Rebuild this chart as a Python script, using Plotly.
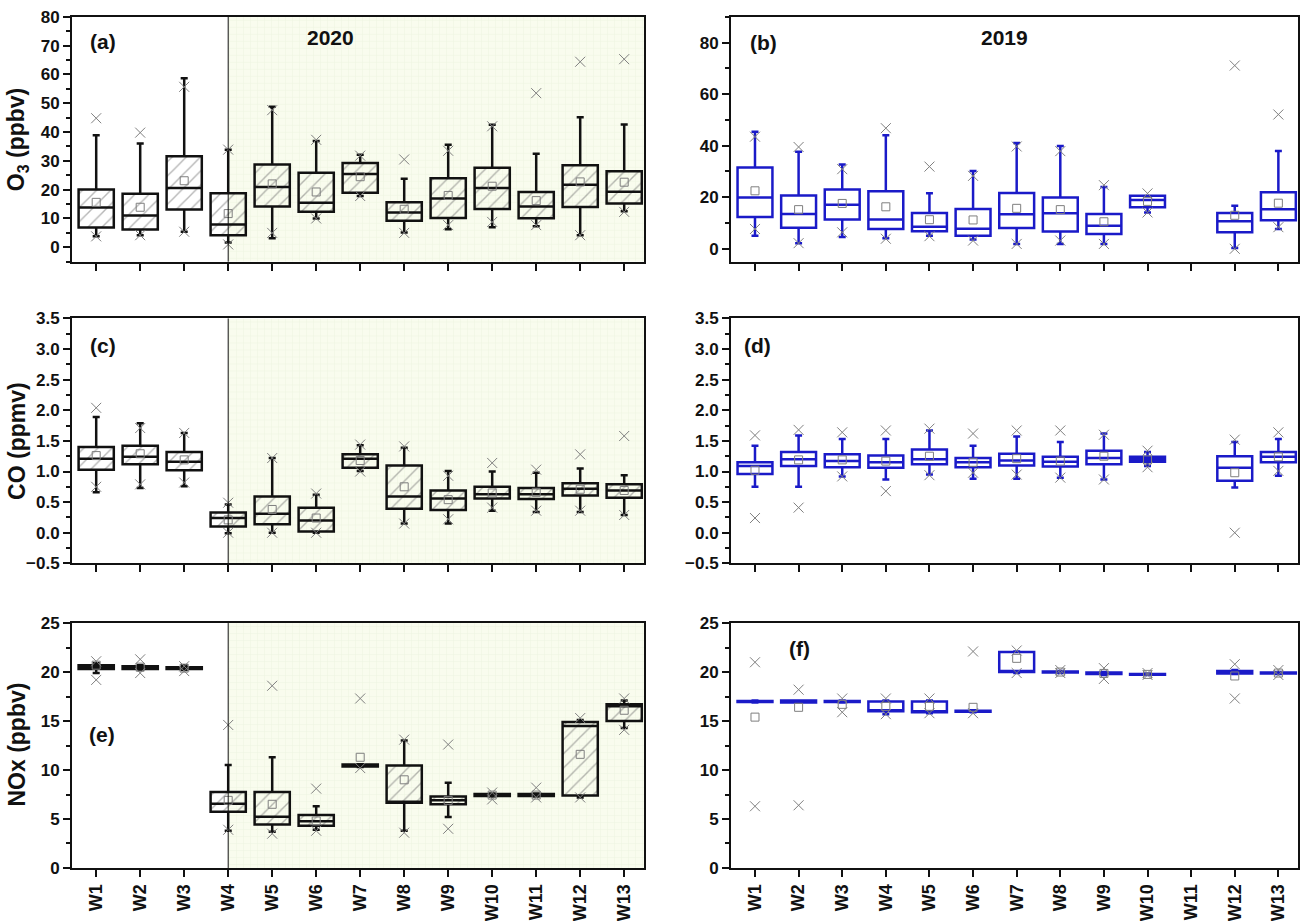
import plotly.graph_objects as go

weeks = ["W1", "W2", "W3", "W4", "W5", "W6", "W7", "W8", "W9", "W10", "W11", "W12", "W13"]
xpos = list(range(1, len(weeks) + 1))

# ---------- (a) O3 2020 (ppbv) ----------
o3_20_lo = [3.8, 4.2, 5.4, 1.7, 3.1, 10.0, 17.8, 5.1, 6.3, 7.0, 7.3, 4.2, 12.5]
o3_20_q1 = [6.9, 6.2, 13.1, 4.2, 14.2, 12.3, 18.9, 9.2, 10.2, 13.3, 10.1, 14.0, 15.2]
o3_20_med = [13.8, 11.0, 20.6, 7.9, 20.9, 15.5, 25.4, 12.1, 16.9, 20.6, 14.2, 21.7, 19.3]
o3_20_q3 = [20.1, 18.6, 31.6, 18.8, 28.7, 25.9, 29.3, 15.6, 24.0, 27.6, 19.2, 28.5, 26.4]
o3_20_hi = [38.9, 36.0, 58.7, 33.9, 48.8, 36.9, 32.1, 23.8, 35.6, 42.5, 32.5, 45.1, 42.6]
o3_20_mean = [15.6, 13.9, 23.1, 11.7, 22.0, 19.2, 24.5, 13.2, 18.0, 21.2, 16.2, 22.7, 22.6]
o3_20_pmin = [3.8, 4.2, 5.4, 1.0, 5.0, 10.0, 17.8, 5.0, 7.7, 8.8, 7.7, 4.2, 12.3]
o3_20_pmax = [44.8, 39.8, 55.7, 33.9, 47.6, 37.3, 31.8, 30.5, 33.5, 42.0, 53.5, 64.4, 65.3]

# ---------- (b) O3 2019 (ppbv) ----------
o3_19_lo = [5.1, 2.2, 4.6, 4.1, 5.1, 3.6, 1.9, 1.9, 1.9, 14.1, None, 0.3, 7.7]
o3_19_q1 = [12.3, 8.2, 11.4, 7.7, 6.8, 5.1, 8.1, 6.7, 5.7, 16.1, None, 6.4, 11.1]
o3_19_med = [19.9, 13.5, 17.1, 11.4, 8.6, 7.8, 13.4, 13.8, 8.9, 18.9, None, 10.7, 15.3]
o3_19_q3 = [31.5, 20.7, 23.0, 22.3, 13.9, 15.4, 21.7, 19.9, 13.5, 20.6, None, 13.9, 21.9]
o3_19_hi = [45.4, 37.7, 32.7, 44.1, 21.6, 30.2, 41.0, 39.9, 24.0, 20.6, None, 16.7, 37.9]
o3_19_mean = [22.5, 15.2, 17.6, 16.3, 11.3, 11.2, 15.7, 15.2, 10.5, 18.4, None, 13.0, 17.7]
o3_19_pmin = [7.7, 2.2, 6.4, 3.9, 4.9, 3.2, 1.9, 3.2, 1.9, 14.1, None, 0.0, 8.4]
o3_19_pmax = [43.5, 39.5, 30.9, 46.8, 31.9, 28.3, 39.7, 37.9, 24.7, 21.5, None, 71.1, 52.1]

# ---------- (c) CO 2020 (ppmv) ----------
co_20_lo = [0.66, 0.73, 0.76, -0.01, 0.0, 0.0, 1.01, 0.15, 0.15, 0.36, 0.34, 0.34, 0.29]
co_20_q1 = [1.03, 1.12, 1.02, 0.10, 0.14, 0.02, 1.06, 0.39, 0.37, 0.56, 0.55, 0.61, 0.57]
co_20_med = [1.21, 1.24, 1.16, 0.24, 0.31, 0.20, 1.21, 0.59, 0.56, 0.63, 0.63, 0.72, 0.69]
co_20_q3 = [1.40, 1.42, 1.32, 0.33, 0.59, 0.41, 1.28, 1.10, 0.69, 0.75, 0.73, 0.81, 0.79]
co_20_hi = [1.89, 1.79, 1.63, 0.46, 1.22, 0.62, 1.43, 1.39, 1.01, 1.00, 0.98, 1.05, 0.94]
co_20_mean = [1.26, 1.29, 1.19, 0.21, 0.38, 0.24, 1.18, 0.75, 0.54, 0.65, 0.66, 0.71, 0.69]
co_20_pmin = [0.75, 0.79, 0.82, 0.0, 0.0, 0.0, 1.0, 0.15, 0.22, 0.41, 0.36, 0.36, 0.29]
co_20_pmax = [2.04, 1.71, 1.63, 0.49, 1.22, 0.64, 1.44, 1.41, 0.93, 1.14, 1.03, 1.28, 1.58]

# ---------- (d) CO 2019 (ppmv) ----------
co_19_lo = [0.75, 0.75, 0.92, 0.87, 0.95, 0.88, 0.88, 0.90, 0.87, 1.09, None, 0.74, 0.93]
co_19_q1 = [0.96, 1.09, 1.07, 1.06, 1.12, 1.07, 1.10, 1.08, 1.12, 1.16, None, 0.85, 1.15]
co_19_med = [1.09, 1.20, 1.17, 1.15, 1.20, 1.15, 1.18, 1.16, 1.22, 1.20, None, 1.06, 1.24]
co_19_q3 = [1.15, 1.32, 1.28, 1.26, 1.36, 1.22, 1.29, 1.24, 1.34, 1.24, None, 1.25, 1.32]
co_19_hi = [1.42, 1.59, 1.53, 1.53, 1.67, 1.42, 1.57, 1.48, 1.62, 1.32, None, 1.48, 1.53]
co_19_mean = [1.02, 1.19, 1.19, 1.17, 1.25, 1.15, 1.21, 1.17, 1.25, 1.19, None, 0.98, 1.24]
co_19_pmin = [0.24, 0.41, 0.92, 0.68, 0.94, 0.98, 0.95, 0.90, 0.87, 1.07, None, 0.0, 1.01]
co_19_pmax = [1.59, 1.68, 1.64, 1.67, 1.70, 1.62, 1.67, 1.67, 1.60, 1.34, None, 1.52, 1.64]

# ---------- (e) NOx 2020 (ppbv) ----------
nox_20_lo = [19.9, 20.2, 20.2, 3.8, 3.7, 3.9, 10.3, 3.8, 5.2, 7.3, 7.3, 7.2, 14.3]
nox_20_q1 = [20.3, 20.3, 20.3, 5.75, 4.43, 4.3, 10.35, 6.66, 6.5, 7.35, 7.35, 7.4, 15.0]
nox_20_med = [20.5, 20.5, 20.4, 6.56, 5.24, 4.77, 10.45, 6.7, 6.9, 7.44, 7.44, 14.5, 16.5]
nox_20_q3 = [20.7, 20.6, 20.5, 7.75, 7.75, 5.4, 10.55, 10.45, 7.3, 7.55, 7.55, 14.9, 16.7]
nox_20_hi = [20.9, 20.7, 20.7, 10.5, 11.3, 6.3, 10.6, 13.0, 8.7, 7.6, 7.6, 15.1, 17.1]
nox_20_mean = [20.7, 20.5, 20.4, 6.9, 6.5, 4.8, 11.3, 9.0, 6.9, 7.44, 7.44, 11.6, 16.1]
nox_20_pmin = [19.2, 19.9, 20.1, 3.9, 3.5, 3.8, 10.2, 3.6, 4.0, 7.0, 7.2, 7.2, 14.1]
nox_20_pmax = [21.1, 21.3, 20.6, 14.6, 18.6, 8.1, 17.3, 13.1, 12.6, 7.7, 8.2, 15.3, 17.3]

# ---------- (f) NOx 2019 (ppbv) ----------
nox_19_lo = [16.9, 16.9, 16.9, 15.7, 15.8, 15.9, 19.9, 19.9, 19.7, 19.7, None, 19.8, 19.8]
nox_19_q1 = [16.95, 16.9, 16.95, 16.0, 15.9, 15.95, 20.0, 19.95, 19.8, 19.72, None, 19.85, 19.85]
nox_19_med = [17.0, 17.0, 17.0, 16.1, 16.0, 16.0, 20.1, 20.0, 19.86, 19.76, None, 19.96, 19.9]
nox_19_q3 = [17.05, 17.1, 17.05, 17.0, 17.0, 16.05, 22.05, 20.05, 19.95, 19.8, None, 20.1, 19.95]
nox_19_hi = [17.1, 17.1, 17.1, 17.1, 17.1, 16.1, 22.1, 20.1, 20.0, 19.85, None, 20.2, 20.0]
nox_19_mean = [15.4, 16.4, 16.7, 16.5, 16.5, 16.4, 21.4, 20.0, 19.86, 19.76, None, 19.6, 19.9]
nox_19_pmin = [6.3, 6.4, 15.9, 15.7, 15.8, 15.8, 19.9, 19.9, 19.3, 19.7, None, 17.3, 19.7]
nox_19_pmax = [21.0, 18.2, 17.3, 17.3, 17.3, 22.1, 22.2, 20.2, 20.4, 19.9, None, 20.8, 20.2]

# ---------------- styling ----------------
FONT = "Liberation Sans, Arial, sans-serif"
BLACK = "#111111"
BLUE = "#1a1ac8"
GRAY = "#7f7f7f"
SHADE_BG = "#f9fcee"
SHADE_FG = "#e4eed4"
XRANGE = [0.45, 13.45]
SHADE_FROM = "W4"

W, H = 1303, 921


def py(v):
    # vertical pixel position (slightly stretched about the page centre)
    return 445 + (v - 445) * 1.021


LEFT_DOM = [72 / W, 644 / W]
RIGHT_DOM = [731 / W, 1298 / W]
ROW_DOM = [
    [1 - py(263) / H, 1 - py(17) / H],
    [1 - py(566) / H, 1 - py(320) / H],
    [1 - py(872) / H, 1 - py(626) / H],
]

panels = [
    dict(ax="", data=(o3_20_lo, o3_20_q1, o3_20_med, o3_20_q3, o3_20_hi, o3_20_mean, o3_20_pmin, o3_20_pmax),
         color=BLACK, hatch=True, yr=[-5, 80], dt=10, mdt=5, fmt="d", row=0, col=0),
    dict(ax="2", data=(o3_19_lo, o3_19_q1, o3_19_med, o3_19_q3, o3_19_hi, o3_19_mean, o3_19_pmin, o3_19_pmax),
         color=BLUE, hatch=False, yr=[-5, 90], dt=20, mdt=10, fmt="d", row=0, col=1),
    dict(ax="3", data=(co_20_lo, co_20_q1, co_20_med, co_20_q3, co_20_hi, co_20_mean, co_20_pmin, co_20_pmax),
         color=BLACK, hatch=True, yr=[-0.5, 3.5], dt=0.5, mdt=0.25, fmt=".1f", row=1, col=0),
    dict(ax="4", data=(co_19_lo, co_19_q1, co_19_med, co_19_q3, co_19_hi, co_19_mean, co_19_pmin, co_19_pmax),
         color=BLUE, hatch=False, yr=[-0.5, 3.5], dt=0.5, mdt=0.25, fmt=".1f", row=1, col=1),
    dict(ax="5", data=(nox_20_lo, nox_20_q1, nox_20_med, nox_20_q3, nox_20_hi, nox_20_mean, nox_20_pmin, nox_20_pmax),
         color=BLACK, hatch=True, yr=[0, 25], dt=5, mdt=2.5, fmt="d", row=2, col=0),
    dict(ax="6", data=(nox_19_lo, nox_19_q1, nox_19_med, nox_19_q3, nox_19_hi, nox_19_mean, nox_19_pmin, nox_19_pmax),
         color=BLUE, hatch=False, yr=[0, 25], dt=5, mdt=2.5, fmt="d", row=2, col=1),
]

fig = go.Figure()
layout_axes = {}
shapes = []

shade_x0 = xpos[weeks.index(SHADE_FROM)]

for p in panels:
    xa = "x" + p["ax"]
    ya = "y" + p["ax"]
    lo, q1, med, q3, hi, mean, pmin, pmax = p["data"]
    idx = [i for i in range(len(weeks)) if med[i] is not None]
    xs = [xpos[i] for i in idx]

    def sel(arr):
        return [arr[i] for i in idx]

    if p["hatch"]:
        # shaded (lockdown) background with fine grid
        fig.add_trace(go.Bar(
            x=[(shade_x0 + XRANGE[1]) / 2], base=[p["yr"][0]], y=[p["yr"][1] - p["yr"][0]],
            width=[XRANGE[1] - shade_x0],
            marker=dict(color=SHADE_BG, line_width=0,
                        pattern=dict(shape="+", fgcolor=SHADE_FG, bgcolor=SHADE_BG, size=7, solidity=0.16)),
            xaxis=xa, yaxis=ya, hoverinfo="skip", showlegend=False))
        # hatched boxes
        fig.add_trace(go.Bar(
            x=xs, base=sel(q1), y=[q3[i] - q1[i] for i in idx], width=0.8,
            marker=dict(color="rgba(0,0,0,0)", line_width=0,
                        pattern=dict(shape="/", fgcolor="#6e6e6e", bgcolor="rgba(0,0,0,0)", size=10, solidity=0.14)),
            xaxis=xa, yaxis=ya, hoverinfo="skip", showlegend=False))
        shapes.append(dict(type="line", xref=xa, yref=ya + " domain", x0=shade_x0, x1=shade_x0, y0=0, y1=1,
                           line=dict(color=BLACK, width=1)))

    fig.add_trace(go.Box(
        x=xs, lowerfence=sel(lo), q1=sel(q1), median=sel(med), q3=sel(q3), upperfence=sel(hi),
        width=0.8, whiskerwidth=0.2, fillcolor="rgba(0,0,0,0)",
        line=dict(color=p["color"], width=2.5), boxpoints=False,
        xaxis=xa, yaxis=ya, showlegend=False))
    fig.add_trace(go.Scatter(
        x=xs + xs, y=sel(pmin) + sel(pmax), mode="markers",
        marker=dict(symbol="x-thin-open", size=10, color=GRAY, line=dict(color=GRAY, width=1)),
        xaxis=xa, yaxis=ya, showlegend=False))
    fig.add_trace(go.Scatter(
        x=xs, y=sel(mean), mode="markers",
        marker=dict(symbol="square-open", size=8, color=GRAY, line=dict(color=GRAY, width=1)),
        xaxis=xa, yaxis=ya, showlegend=False))

    bottom = p["row"] == 2
    xdom = LEFT_DOM if p["col"] == 0 else RIGHT_DOM
    layout_axes["xaxis" + p["ax"]] = dict(
        domain=xdom, anchor=ya, range=XRANGE, tickmode="array", tickvals=xpos, ticktext=weeks,
        showticklabels=bottom, tickangle=-90, ticks="outside", ticklen=7, tickwidth=2, tickcolor=BLACK,
        showline=True, mirror=True, linecolor=BLACK, linewidth=2, showgrid=False, zeroline=False,
        tickfont=dict(family=FONT, size=18, color=BLACK, weight="bold"))
    layout_axes["yaxis" + p["ax"]] = dict(
        domain=ROW_DOM[p["row"]], anchor=xa, range=p["yr"], tick0=0, dtick=p["dt"],
        tickformat=p["fmt"], ticks="outside", ticklen=7, tickwidth=2, tickcolor=BLACK,
        minor=dict(ticks="outside", ticklen=4, tickwidth=1.5, tickcolor=BLACK, dtick=p["mdt"], tick0=0),
        showline=True, mirror=True, linecolor=BLACK, linewidth=2, showgrid=False, zeroline=False,
        tickfont=dict(family=FONT, size=17, color=BLACK, weight="bold"))


def ann(text, px, pyv, size=21, angle=0):
    return dict(text=text, x=px / W, y=1 - py(pyv) / H, xref="paper", yref="paper", showarrow=False,
                textangle=angle, xanchor="center", yanchor="middle",
                font=dict(family=FONT, size=size, color=BLACK, weight="bold"))


annotations = [
    ann("(a)", 103, 42), ann("2020", 330, 38),
    ann("(b)", 763, 43), ann("2019", 1004, 38),
    ann("(c)", 103, 347), ann("(d)", 757, 347),
    ann("(e)", 102, 738), ann("(f)", 799, 652),
    ann("O<sub>3</sub> (ppbv)", 17, 140, size=23, angle=-90),
    ann("CO (ppmv)", 17, 443, size=23, angle=-90),
    ann("NOx (ppbv)", 17, 748, size=23, angle=-90),
]

fig.update_layout(
    width=W, height=H, margin=dict(l=0, r=0, t=0, b=0),
    paper_bgcolor="white", plot_bgcolor="white",
    barmode="overlay", boxmode="overlay", showlegend=False,
    font=dict(family=FONT, color=BLACK),
    shapes=shapes, annotations=annotations,
    **layout_axes,
)

# remove the default page margin so the 1303x921 figure fills the window exactly
fig.write_html(
    "out.html",
    config={"displayModeBar": False},
    post_script="document.body.style.margin='0px';document.body.style.overflow='hidden';",
)
